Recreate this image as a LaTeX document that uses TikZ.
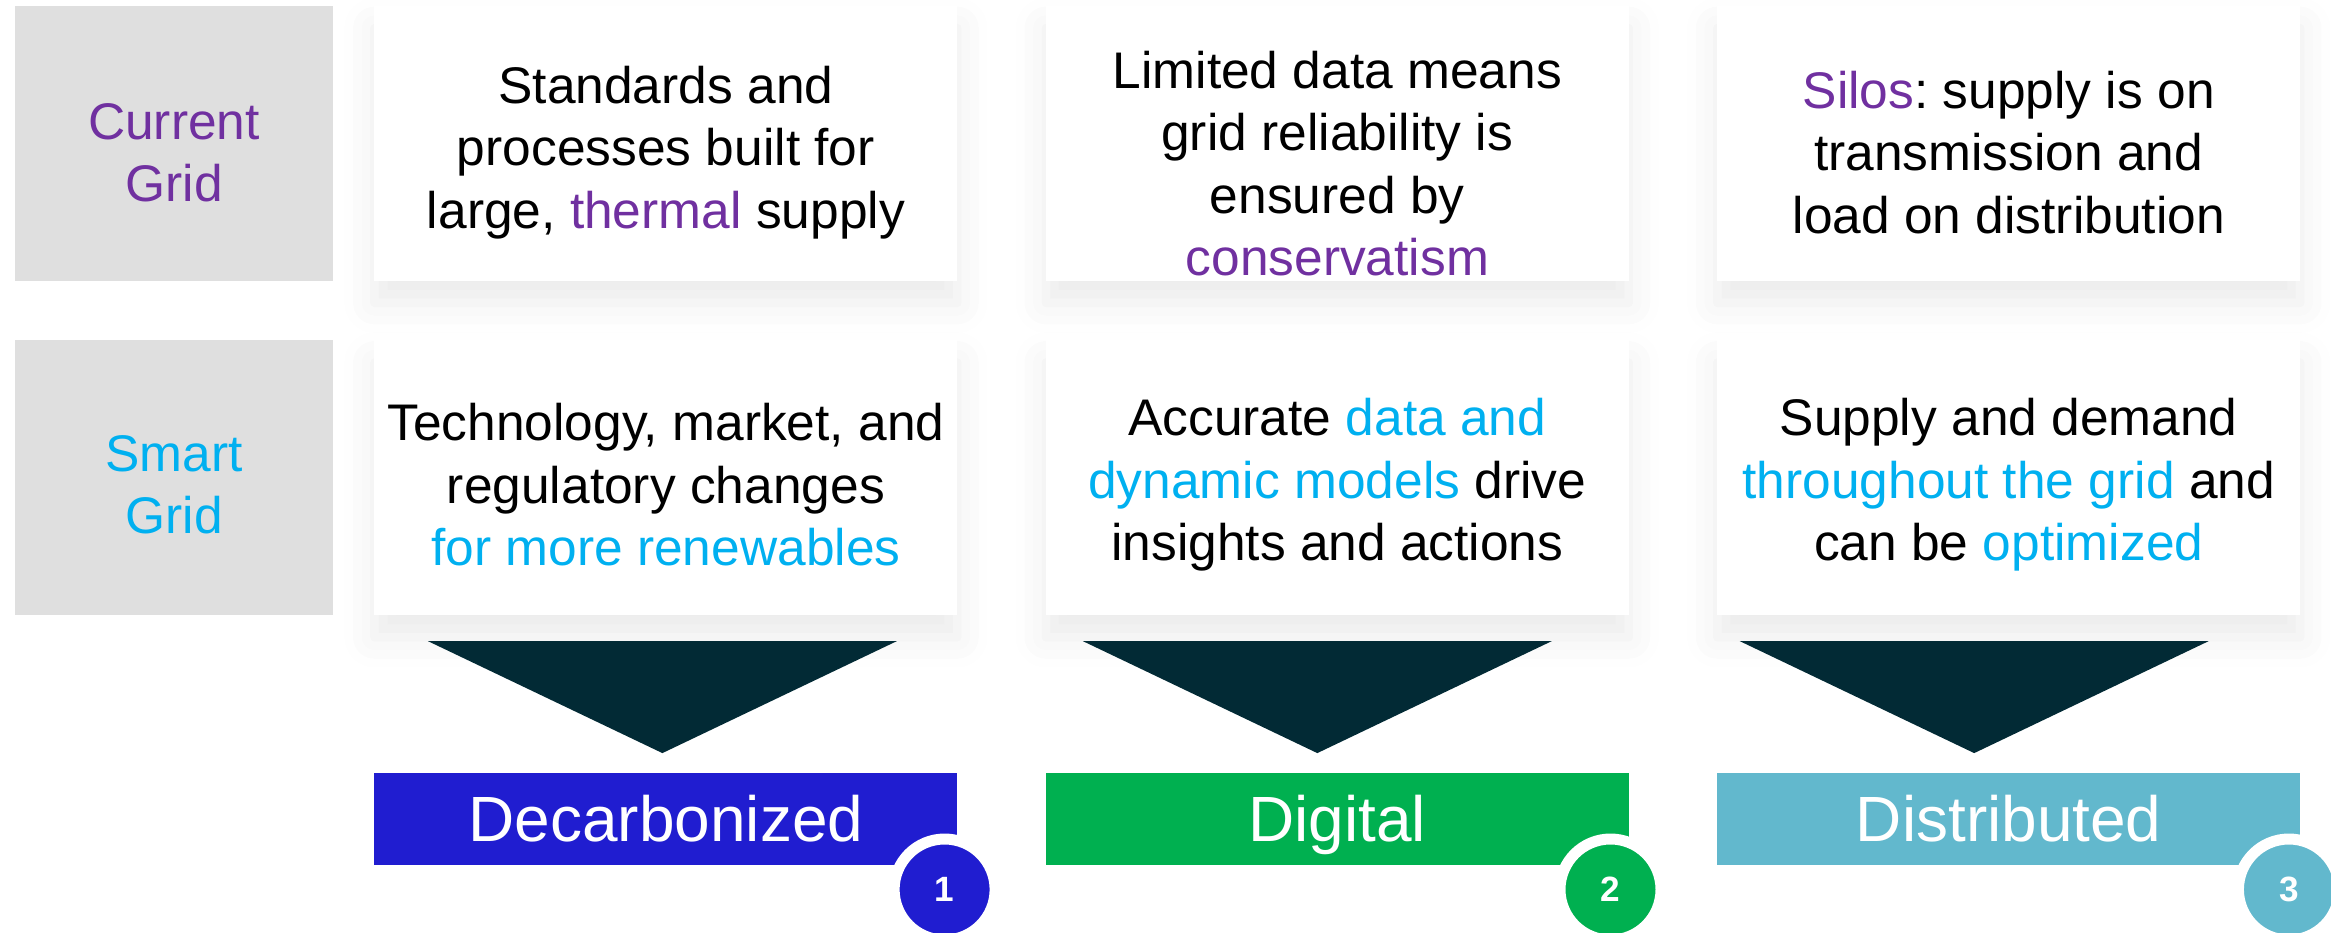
\documentclass[tikz,border=0pt]{standalone}
\usepackage{fontspec}
\setmainfont{Liberation Sans}
\usetikzlibrary{positioning,calc,shadows.blur}

\definecolor{gridpurple}{HTML}{7030A0}
\definecolor{gridblue}{HTML}{00B0F0}
\definecolor{labelgray}{HTML}{DFDFDF}
\definecolor{arrowteal}{HTML}{022A35}
\definecolor{carbonblue}{HTML}{201DD0}
\definecolor{digitalgreen}{HTML}{00B050}
\definecolor{spreadteal}{HTML}{62B8CD}

% words that belong to the old or the new grid
\newcommand{\oldword}[1]{\textcolor{gridpurple}{#1}}
\newcommand{\newword}[1]{\textcolor{gridblue}{#1}}

\frenchspacing

\tikzset{
  box text/.style={
    align=center,
    font=\fontsize{14.65}{17.75}\selectfont,
  },
  row label/.style={
    fill=labelgray,
    minimum width=3.18cm,
    minimum height=2.75cm,
  },
  text box/.style={
    fill=white,
    minimum width=5.83cm,
    minimum height=2.75cm,
    blur shadow={shadow xshift=0pt, shadow yshift=-0.22cm,
      shadow blur radius=0.3cm, shadow opacity=8},
  },
  arrow head/.style={
    fill=arrowteal,
  },
  stage bar/.style={
    fill=#1,
    text=white,
    minimum width=5.83cm,
    minimum height=0.92cm,
    text height=13pt,
    text depth=0pt,
    font=\fontsize{18.2}{22}\selectfont,
  },
  badge/.style={
    circle,
    fill=#1,
    draw=white,
    line width=0.11cm,
    minimum size=1.01cm,
    inner sep=0pt,
    text=white,
    font=\fontsize{10}{12}\selectfont\bfseries,
  },
}

\begin{document}
\begin{tikzpicture}
  \useasboundingbox (0,0) rectangle (23.31,-9.33);

  % row labels
  \node [row label] (cur) at (1.74,-1.435) {};
  \node [row label, below=0.58cm of cur] (smart) {};

  % boxes
  \node [text box, right=0.4cm of cur] (c1) {};
  \node [text box, right=0.87cm of c1] (c2) {};
  \node [text box, right=0.87cm of c2] (c3) {};
  \node [text box, right=0.4cm of smart] (s1) {};
  \node [text box, right=0.87cm of s1] (s2) {};
  \node [text box, right=0.87cm of s2] (s3) {};

  % their texts
  \node [box text] (curtxt) at ([yshift=-0.09cm]cur.center) {\oldword{Current}\\\oldword{Grid}};
  \node [box text] (smarttxt) at ([yshift=-0.07cm]smart.center) {\newword{Smart}\\\newword{Grid}};

  \node [box text] (c1txt) at ([yshift=-0.09cm]c1.center) {Standards and\\processes built for\\large, \oldword{thermal} supply};
  \node [box text] (c2txt) at ([yshift=-0.2cm]c2.center) {Limited data means\\grid reliability is\\ensured by\\\oldword{conservatism}};
  \node [box text] (c3txt) at ([yshift=-0.09cm]c3.center) {\oldword{Silos}: supply is on\\transmission and\\load on distribution};

  \node [box text] (s1txt) at ([yshift=-0.07cm]s1.center) {Technology, market, and\\regulatory changes\\\newword{for more renewables}};
  \node [box text] (s2txt) at ([yshift=-0.07cm]s2.center) {Accurate \newword{data and}\\\newword{dynamic models} drive\\insights and actions};
  \node [box text] (s3txt) at ([yshift=-0.07cm]s3.center) {Supply and demand\\\newword{throughout the grid} and\\can be \newword{optimized}};

  % arrows down to the outcomes
  \foreach \s/\dx in {s1/-0.035, s2/-0.2, s3/-0.345}
    \fill [arrow head] ($(\s.south)+(\dx-2.345,-0.25)$) -- ($(\s.south)+(\dx+2.345,-0.25)$)
      -- ($(\s.south)+(\dx,-1.37)$) -- cycle;

  % outcomes
  \node [stage bar=carbonblue, below=1.56cm of s1] (b1) {Decarbonized};
  \node [stage bar=digitalgreen, below=1.56cm of s2] (b2) {Digital};
  \node [stage bar=spreadteal, below=1.56cm of s3] (b3) {Distributed};

  \node [badge=carbonblue] (n1) at ([xshift=-0.135cm, yshift=-0.24cm]b1.south east) {1};
  \node [badge=digitalgreen] (n2) at ([xshift=-0.19cm, yshift=-0.24cm]b2.south east) {2};
  \node [badge=spreadteal] (n3) at ([xshift=-0.12cm, yshift=-0.24cm]b3.south east) {3};
\end{tikzpicture}
\end{document}
